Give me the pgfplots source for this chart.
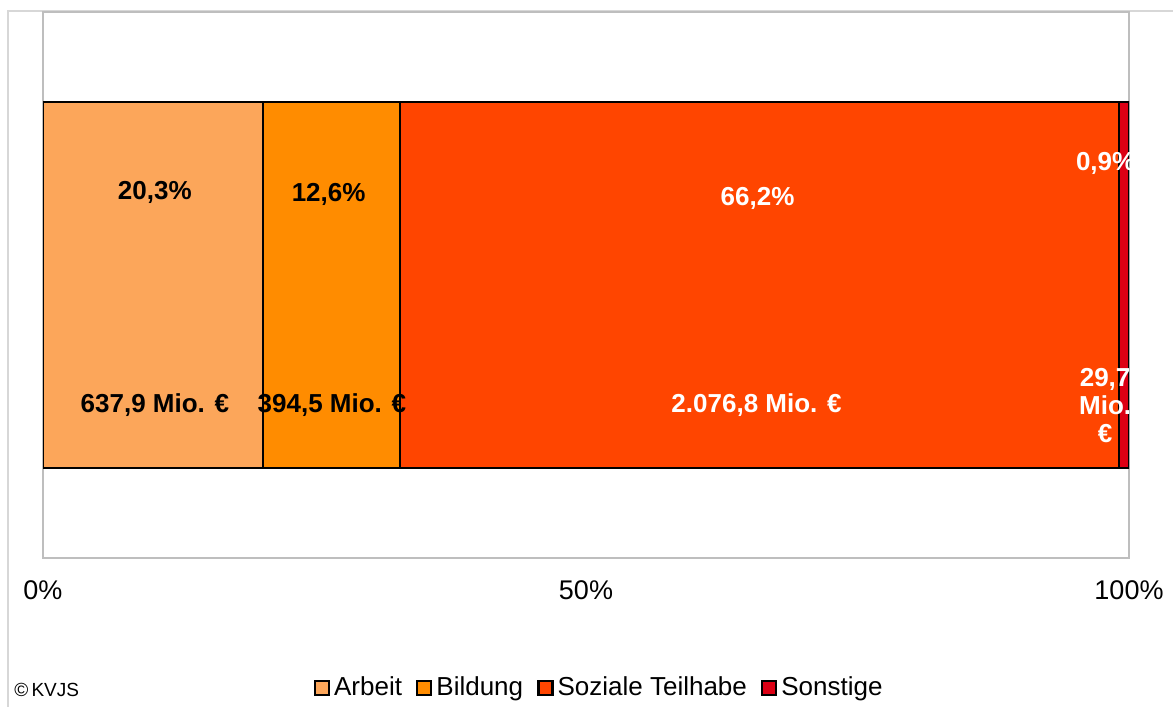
\documentclass[border=0pt]{standalone}
\usepackage{pgfplots}
\pgfplotsset{compat=1.18}
\usepackage{fontspec}
\setmainfont{Liberation Sans}
\definecolor{arbeit}{RGB}{252,166,90}
\definecolor{bildung}{RGB}{255,140,0}
\definecolor{sozial}{RGB}{255,69,0}
\definecolor{sonst}{RGB}{220,0,20}
\definecolor{frame}{RGB}{190,190,190}
\definecolor{outer}{RGB}{215,215,215}
\newcommand{\labfont}{\bfseries\fontsize{13}{14.5}\selectfont}
\tikzset{lab/.style={font=\labfont}}
\begin{document}
\begin{tikzpicture}
\useasboundingbox (0,0) rectangle (586.5pt,353.5pt);
\draw[outer, line width=1pt] (3.75pt,0) -- (3.75pt,347.8pt) -- (586.5pt,347.8pt);
\node[anchor=west, font=\fontsize{9.5}{11}\selectfont, inner sep=0pt] at (7pt,8.5pt) {©\,KVJS};
\begin{axis}[
  at={(21.5pt,74.5pt)}, anchor=south west,
  scale only axis, width=543pt, height=273pt,
  xbar stacked, bar width=182.5pt,
  xmin=0, xmax=100, ymin=-1, ymax=1,
  ytick=\empty,
  xtick={0,50,100}, xticklabels={0\%,50\%,100\%},
  major tick length=0pt,
  axis line style={draw=frame, line width=1pt},
  xticklabel style={anchor=center, yshift=-16pt, font=\fontsize{13.5}{16}\selectfont},
  legend style={at={(0.513,-0.238)}, anchor=center, draw=none, fill=none,
    legend columns=-1, font=\fontsize{13}{15}\selectfont,
    /tikz/every even column/.append style={column sep=5pt}},
  legend image code/.code={\draw[#1, draw=black, line width=1.2pt] (0pt,-3.5pt) rectangle (7pt,3.5pt);},
  after end axis/.code={
    \begin{scope}
    \clip (rel axis cs:0,0) rectangle (rel axis cs:1,1);
    \node[lab, text=black] at (axis cs:10.3,0.339) {20,3\%};
    \node[lab, text=black] at (axis cs:26.3,0.332) {12,6\%};
    \node[lab, text=white] at (axis cs:65.8,0.318) {66,2\%};
    \node[lab, text=white] at (axis cs:97.85,0.447) {0,9\%};
    \node[lab, text=black] at (axis cs:10.3,-0.44) {637,9 Mio. €};
    \node[lab, text=black] at (axis cs:26.6,-0.44) {394,5 Mio. €};
    \node[lab, text=white] at (axis cs:65.7,-0.44) {2.076,8 Mio. €};
    \node[lab, text=white] at (axis cs:97.8,-0.345) {29,7};
    \node[lab, text=white] at (axis cs:97.8,-0.44) {Mio.};
    \node[lab, text=white] at (axis cs:97.8,-0.545) {€};
    \end{scope}
  },
]
\addplot[fill=arbeit, draw=black, line width=1pt] coordinates {(20.3,0)};
\addplot[fill=bildung, draw=black, line width=1pt] coordinates {(12.6,0)};
\addplot[fill=sozial, draw=black, line width=1pt] coordinates {(66.2,0)};
\addplot[fill=sonst, draw=black, line width=1pt] coordinates {(0.9,0)};
\legend{Arbeit,Bildung,Soziale Teilhabe,Sonstige}
\end{axis}
\end{tikzpicture}
\end{document}
